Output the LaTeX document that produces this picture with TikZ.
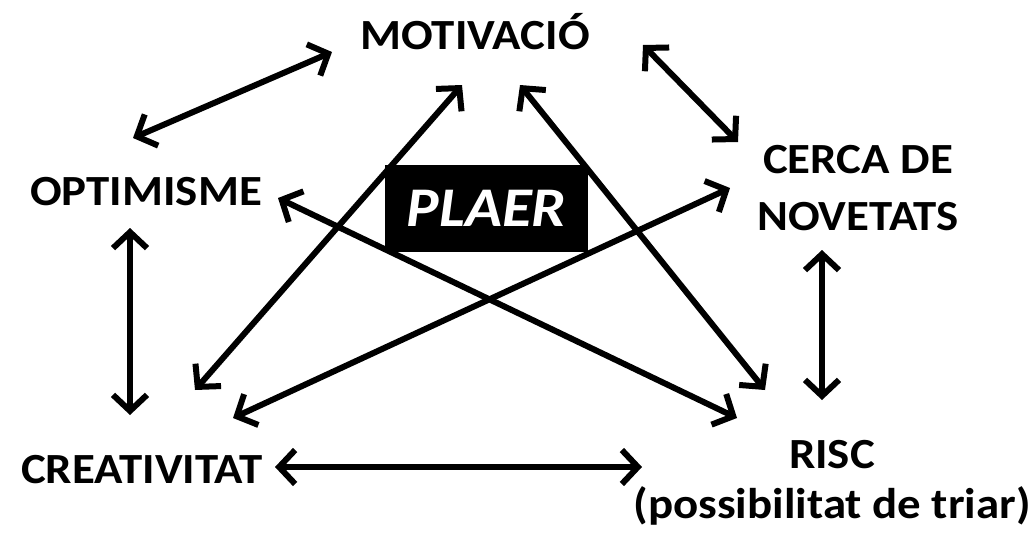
\documentclass[tikz,border=0pt]{standalone}
\usepackage{fontspec}
\setmainfont[FakeStretch=1.09]{Carlito}
\usetikzlibrary{arrows.meta}
\begin{document}
\begin{tikzpicture}[x=1pt,y=-1pt,
  lbl/.style={font=\bfseries\fontsize{43}{50}\selectfont, align=center, inner sep=0pt, anchor=base},
  tip/.tip={Straight Barb[length=16pt,width=34pt,line join=miter]},
  dbl/.style={line width=6pt, tip-tip},
  plaerbox/.style={fill=black, text=white, minimum width=203pt, minimum height=87pt, inner sep=0pt,
    font=\bfseries\itshape\fontsize{56}{60}\selectfont}]
\useasboundingbox (0,0) rectangle (1029,539);
\node[lbl] (mot) at (475,49) {MOTIVACIÓ};
\node[lbl] (opt) at (146,205) {OPTIMISME};
\node[lbl] (cer) at (858,230) {CERCA DE\\[7pt]NOVETATS};
\node[lbl] (cre) at (142,483) {CREATIVITAT};
\node[lbl] (ris) at (832,518) {RISC\\(possibilitat de triar)};
% arrow ends
\coordinate (a1) at (133,138); \coordinate (b1) at (332,52);
\coordinate (a2) at (643,45); \coordinate (b2) at (738,142);
\coordinate (a3) at (130,228); \coordinate (b3) at (130,415);
\coordinate (a4) at (822,250); \coordinate (b4) at (822,400);
\coordinate (a5) at (275,467); \coordinate (b5) at (642,467);
\coordinate (a6) at (195,390); \coordinate (b6) at (462,85);
\coordinate (a7) at (233,418); \coordinate (b7) at (730,188);
\coordinate (a8) at (278,198); \coordinate (b8) at (737,418);
\coordinate (a9) at (520,85); \coordinate (b9) at (765,390);
\foreach \i in {1,...,9} {\draw[dbl] (a\i) -- (b\i);}
\node[plaerbox] (pla) at (486.5,208.5) {PLAER};
\end{tikzpicture}
\end{document}
